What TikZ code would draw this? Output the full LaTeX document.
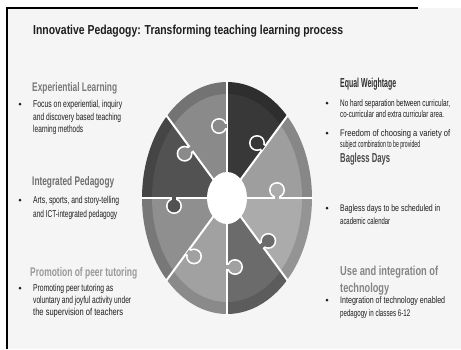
\documentclass[tikz,border=0pt]{standalone}
\usepackage{fontspec}
\setmainfont{Liberation Sans}
\usepackage{graphicx}
\usetikzlibrary{calc}
\newcommand{\fw}[2]{\resizebox{#1pt}{\height}{#2}}
\definecolor{bgc}{HTML}{F5F5F5}
\definecolor{txc}{HTML}{1E1E1E}
\tikzset{
  ttl/.style={anchor=base west, inner sep=0, text=txc, font=\bfseries\fontsize{13}{15}\selectfont},
  lhead/.style={anchor=base west, inner sep=0, font=\bfseries\fontsize{12.5}{14}\selectfont},
  rhead/.style={anchor=base west, inner sep=0, font=\bfseries\fontsize{13}{15}\selectfont},
  body/.style={anchor=base west, inner sep=0, text=txc, font=\fontsize{10}{11}\selectfont},
  rbody/.style={anchor=base west, inner sep=0, text=txc, font=\fontsize{9.5}{10}\selectfont},
  bul/.style={circle, fill=txc, inner sep=0, minimum size=3pt},
  sep/.style={white, line width=2pt}
}
% knob: #1 point on line, #2 centre, #3 colour, #4 extension
\newcommand{\knob}[4]{%
  \draw[white, line width=8pt] (#1) -- (#2);
  \fill[white] (#2) circle (8);
  \draw[#3, line width=4.5pt] ($(#1)!-#4!(#2)$) -- (#2);
  \fill[#3] (#2) circle (6.3);
}
\begin{document}
\begin{tikzpicture}[x=1pt,y=-1pt]
\useasboundingbox (0,0) rectangle (461,349);
\fill[white] (0,0) rectangle (461,349);
\fill[bgc] (7,8) rectangle (461,349);
\draw[black, line width=2.2pt] (7,349) -- (7,8) -- (418,8);

% title
\node[ttl] (title) at (33,34) {\fw{310}{Innovative Pedagogy: Transforming teaching learning process}};

% puzzle
\coordinate (C) at (227,198);
\foreach \a/\b/\co/\ci in {-90/-45/black!82/black!78, -45/0/black!47/black!38, 0/45/black!42/black!33, 45/90/black!64/black!58, 90/135/black!46/black!37, 135/180/black!53/black!44, 180/225/black!73/black!68, 225/270/black!55/black!46}{
  \fill[\co] (C) -- ([shift={(C)}]\a:85 and 116) arc[start angle=\a, end angle=\b, x radius=85, y radius=116] -- cycle;
  \fill[\ci] (C) -- ([shift={(C)}]\a:75 and 104) arc[start angle=\a, end angle=\b, x radius=75, y radius=104] -- cycle;
}
\foreach \a in {0,45,...,315}{
  \draw[sep] (C) -- ([shift={(C)}]\a:86 and 117);
}
\knob{227,126}{219,126}{black!46}{0pt}
\knob{191,149}{184.6,153.7}{black!46}{1.5pt}
\knob{174,198}{174,206}{black!68}{1.5pt}
\knob{277,198}{277,190}{black!33}{1.5pt}
\knob{263.6,148}{257,143}{black!78}{0pt}
\knob{261.9,245.6}{268.3,240.9}{black!58}{1.5pt}
\knob{227,267}{235,267}{black!37}{1.5pt}
\knob{187.6,251.7}{194,256.4}{black!37}{0pt}
\fill[white] (C) ellipse [x radius=20, y radius=26];
\node[inner sep=0, minimum size=0] (hub) at (C) {};

% left column
\node[lhead, text=black!52] (h1) at (32,91) {\fw{85}{Experiential Learning}};
\node[bul] (d1) at (20,104) {};
\node[body] (l11) at (33,107) {\fw{89}{Focus on experiential, inquiry}};
\node[body] (l12) at (33,120) {\fw{88}{and discovery based teaching}};
\node[body] (l13) at (33,132) {\fw{50}{learning methods}};

\node[lhead, text=black!57] (h2) at (32,185) {\fw{82}{Integrated Pedagogy}};
\node[bul] (d2) at (20,200) {};
\node[body] (l21) at (33,203) {\fw{86}{Arts, sports, and story-telling}};
\node[body] (l22) at (33,217) {\fw{84}{and ICT-integrated pedagogy}};

\node[lhead, text=black!40] (h3) at (30,276) {\fw{107}{Promotion of peer tutoring}};
\node[bul] (d3) at (20,288) {};
\node[body] (l31) at (33,291) {\fw{80}{Promoting peer tutoring as}};
\node[body] (l32) at (33,303) {\fw{98}{voluntary and joyful activity under}};
\node[body] (l33) at (33,315) {\fw{90}{the supervision of teachers}};

% right column
\node[rhead, text=black!82] (h4) at (340,87) {\fw{56}{Equal Weightage}};
\node[bul] (d4) at (327,103) {};
\node[rbody] (r11) at (340,106) {\fw{110}{No hard separation between curricular,}};
\node[rbody] (r12) at (340,117) {\fw{104}{co-curricular and extra curricular area.}};
\node[bul] (d5) at (327,133) {};
\node[rbody] (r21) at (340,136) {\fw{110}{Freedom of choosing a variety of}};
\node[rbody] (r22) at (340,147) {\fw{80}{subject combination to be provided}};

\node[rhead, text=black!70] (h5) at (340,162) {\fw{50}{Bagless Days}};
\node[bul] (d6) at (327,208) {};
\node[rbody] (r31) at (340,211) {\fw{100}{Bagless days to be scheduled in}};
\node[rbody] (r32) at (340,224) {\fw{50}{academic calendar}};

\node[rhead, text=black!48] (h6) at (340,275) {\fw{98}{Use and integration of}};
\node[rhead, text=black!48] (h6b) at (340,292) {\fw{49}{technology}};
\node[bul] (d7) at (327,300) {};
\node[rbody] (r41) at (340,303) {\fw{105}{Integration of technology enabled}};
\node[rbody] (r42) at (340,316) {\fw{70}{pedagogy in classes 6-12}};
\end{tikzpicture}
\end{document}
